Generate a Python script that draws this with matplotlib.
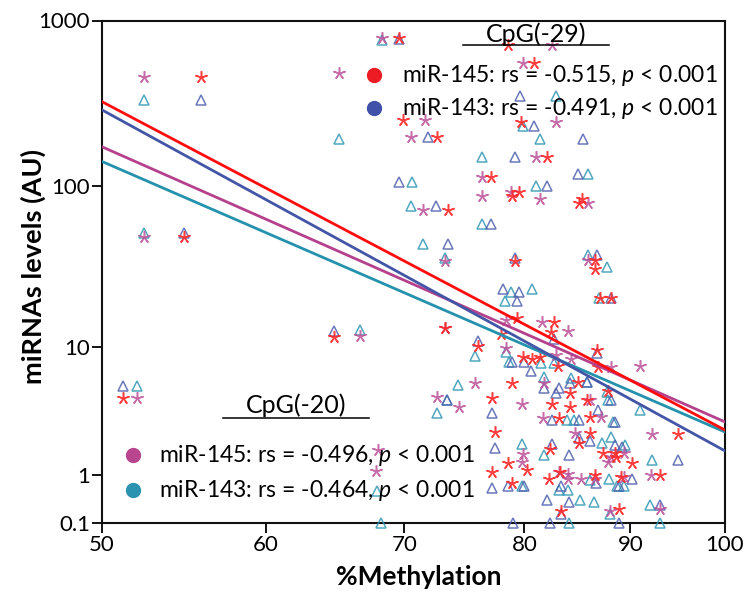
import numpy as np
import matplotlib
matplotlib.use('Agg')
import matplotlib.pyplot as plt
from matplotlib.lines import Line2D
from matplotlib.ticker import FixedLocator, FixedFormatter, NullLocator

plt.rcParams['font.family'] = ['Lato', 'DejaVu Sans']
plt.rcParams['mathtext.fontset'] = 'custom'
plt.rcParams['mathtext.rm'] = 'Lato'
plt.rcParams['mathtext.it'] = 'Lato:italic'

# ---------------- data ----------------
x_ticks = [50, 60, 70, 80, 90, 100]
y_ticks = [0.1, 1, 10, 100, 1000]
y_tick_labels = ['0.1', '1', '10', '100', '1000']

# miR-145, CpG(-29)  (red stars)
red_points = [(55.8, 455), (54.8, 49), (64.7, 11.6), (51.2, 4.5), (69.6, 781), (78.55, 713),
              (80.9, 558), (69.9, 251), (79.7, 246), (72.6, 199), (82.0, 151), (77.1, 114),
              (79.5, 92.6), (78.9, 86.5), (85.0, 79.3), (85.3, 83.4), (73.45, 71.6), (79.2, 34.9),
              (86.5, 35.6), (86.5, 31.0), (87.0, 20.4), (88.1, 20.4), (73.25, 13.2), (79.3, 15.3),
              (77.96, 12.2), (82.7, 14.4), (82.4, 12.5), (76.0, 10.1), (79.9, 8.6), (80.7, 8.3),
              (81.4, 8.6), (83.0, 7.5), (86.7, 9.55), (86.8, 7.4), (84.9, 5.85), (78.9, 5.7),
              (77.2, 4.5), (84.2, 4.9), (84.2, 3.9), (82.5, 4.07), (85.8, 4.35), (87.8, 5.07),
              (77.4, 2.5), (83.1, 3.2), (86.1, 3.28), (86.1, 2.43), (94.9, 2.4), (85.0, 2.03),
              (82.3, 1.77), (87.3, 1.63), (88.45, 1.63), (88.6, 1.51), (90.2, 1.31), (78.55, 1.31),
              (80.2, 1.11), (77.2, 1.08), (82.2, 0.9), (83.2, 1.06), (86.5, 0.99), (89.1, 0.95),
              (93.0, 0.99), (78.9, 0.79), (83.3, 0.27), (88.9, 0.3)]

# miR-143, CpG(-29)  (blue triangles)
blue_points = [(55.8, 332), (54.8, 52), (64.7, 12.6), (51.2, 5.45), (69.6, 770), (79.6, 350),
               (80.9, 231), (71.9, 199), (85.4, 192), (79.2, 151), (84.9, 119), (69.6, 106),
               (82.0, 99.8), (72.5, 75.2), (77.1, 58.7), (73.45, 44.3), (79.2, 36.5), (86.7, 38.0),
               (78.1, 23.3), (79.5, 22.3), (79.3, 19.75), (88.1, 20.4), (82.7, 11.3), (76.0, 10.9),
               (78.9, 8.0), (80.0, 8.0), (80.6, 6.9), (86.7, 9.1), (81.8, 5.3), (83.1, 5.3),
               (82.9, 4.85), (84.2, 5.7), (85.8, 5.85), (73.4, 4.35), (77.2, 3.47), (86.8, 3.7),
               (88.05, 4.35), (82.5, 3.1), (85.0, 3.1), (88.5, 2.97), (85.0, 2.24), (86.1, 2.09),
               (77.4, 1.82), (82.5, 1.97), (88.5, 1.92), (89.2, 1.87), (84.1, 1.58), (94.9, 1.43),
               (86.6, 0.8), (90.2, 0.9), (78.55, 0.72), (80.0, 0.72), (77.2, 0.68), (83.35, 0.72),
               (88.9, 0.72), (82.05, 0.45), (84.1, 0.41), (83.3, 0.22), (93.0, 0.37), (79.0, 0.1),
               (82.35, 0.1), (88.9, 0.1)]

# miR-145, CpG(-20)  (magenta stars)
magenta_points = [(52.4, 455), (65.05, 481), (52.4, 49), (52.0, 4.48), (68.25, 781), (82.5, 713),
                  (79.9, 558), (82.9, 246), (71.6, 251), (70.5, 199), (81.0, 151), (76.3, 114),
                  (78.8, 92.6), (76.3, 86.5), (81.4, 83.4), (85.85, 79.3), (71.5, 71.6), (73.25, 34.8),
                  (85.85, 35.6), (78.35, 14.9), (81.6, 14.4), (83.95, 12.7), (66.6, 11.8), (73.25, 13.2),
                  (78.35, 9.8), (82.9, 8.86), (84.3, 8.33), (88.1, 7.4), (91.0, 7.5), (75.7, 5.75),
                  (81.8, 5.7), (72.55, 4.6), (74.4, 3.85), (79.8, 4.07), (86.1, 4.35), (81.7, 3.2),
                  (87.1, 3.28), (84.6, 2.43), (92.15, 2.4), (68.0, 1.75), (67.85, 1.09), (79.9, 1.6),
                  (88.1, 1.51), (89.4, 1.66), (87.8, 1.36), (79.8, 1.34), (83.1, 1.06), (84.0, 1.01),
                  (84.0, 0.9), (85.2, 0.9), (86.5, 0.9), (89.4, 0.95), (92.05, 0.99), (88.0, 0.27),
                  (93.0, 0.3)]

# miR-143, CpG(-20)  (cyan triangles)
cyan_points = [(52.4, 332), (65.05, 193), (52.4, 52), (52.0, 5.45), (68.25, 766), (81.4, 192),
               (82.9, 350), (79.9, 231), (76.3, 151), (85.85, 119), (70.6, 106), (81.05, 99.8),
               (70.5, 75.2), (76.3, 58.7), (71.5, 44.3), (73.25, 36.5), (85.9, 38.0), (87.65, 32.1),
               (80.7, 23.3), (78.85, 22.3), (78.25, 19.75), (86.9, 20.4), (66.6, 12.8), (75.7, 8.76),
               (78.35, 9.2), (78.65, 8.0), (81.5, 7.88), (82.7, 7.88), (81.8, 6.27), (84.3, 6.19),
               (85.75, 5.85), (87.65, 4.98), (74.3, 5.55), (72.6, 3.48), (73.4, 4.35), (87.8, 4.35),
               (91.0, 3.7), (83.85, 3.1), (84.5, 3.1), (88.25, 2.97), (88.1, 2.27), (87.2, 2.03),
               (89.5, 1.95), (79.8, 1.98), (81.8, 1.58), (92.15, 1.43), (86.1, 0.86), (87.85, 0.9),
               (88.7, 0.73), (89.35, 0.72), (79.8, 0.73), (83.15, 0.65), (84.0, 0.65), (67.9, 0.62),
               (85.1, 0.45), (86.4, 0.41), (88.0, 0.22), (92.0, 0.37), (68.2, 0.1), (84.1, 0.1),
               (93.0, 0.1)]

# regression lines (value at x=50 and x=100)
fit_x = [50, 100]
fit_red = [324, 2.58]
fit_blue = [289, 1.72]
fit_magenta = [173, 2.99]
fit_cyan = [141, 2.49]

title_29 = 'CpG(-29)'
title_20 = 'CpG(-20)'
labels_29 = [r'miR-145: rs = -0.515, $\it{p}$ < 0.001', r'miR-143: rs = -0.491, $\it{p}$ < 0.001']
labels_20 = [r'miR-145: rs = -0.496, $\it{p}$ < 0.001', r'miR-143: rs = -0.464, $\it{p}$ < 0.001']

# ---------------- styles ----------------
C_RED_M, C_RED_L, C_RED_D = '#ff2a2a', '#ff0d0d', '#ed1c24'
C_BLUE_M, C_BLUE_L, C_BLUE_D = '#5161ae', '#4355a6', '#3f51a8'
C_MAG_M, C_MAG_L, C_MAG_D = '#bb529a', '#b5418c', '#b8458e'
C_CYA_M, C_CYA_L, C_CYA_D = '#3399b5', '#2592ad', '#2a93b0'

W, H = 747, 600
fig = plt.figure(figsize=(W / 100, H / 100), dpi=100)
L, R, T, B = 102, 725, 20.5, 522.7
ax = fig.add_axes([L / W, 1 - B / H, (R - L) / W, (B - T) / H])

OFF = 0.85
def fwd(y):
    return np.log10(np.clip(np.asarray(y, dtype=float) + OFF, 1e-9, None))
def inv(t):
    return 10 ** np.asarray(t, dtype=float) - OFF

ax.set_xscale('log')
ax.set_yscale('function', functions=(fwd, inv))
ax.set_xlim(50, 100)
ax.set_ylim(0.1, 1000)

star = (5, 2, 0)
def scatter(points, marker, color, ms, mew, alpha):
    xs, ys = zip(*points)
    if marker == '^':
        ax.plot(xs, ys, ls='none', marker='^', ms=ms, mfc='none', mec=color, mew=mew,
                alpha=alpha, clip_on=False, zorder=3)
    else:
        ax.plot(xs, ys, ls='none', marker=marker, ms=ms, mec=color, mew=mew,
                alpha=alpha, clip_on=False, zorder=3)

scatter(cyan_points, '^', C_CYA_M, 7.5, 1.1, 0.85)
scatter(blue_points, '^', C_BLUE_M, 7.5, 1.1, 0.85)
scatter(magenta_points, star, C_MAG_M, 9, 1.1, 0.85)
scatter(red_points, star, C_RED_M, 9, 1.1, 0.9)

ax.plot(fit_x, fit_cyan, color=C_CYA_L, lw=2.0, zorder=4)
ax.plot(fit_x, fit_magenta, color=C_MAG_L, lw=2.0, zorder=4)
ax.plot(fit_x, fit_blue, color=C_BLUE_L, lw=2.0, zorder=4)
ax.plot(fit_x, fit_red, color=C_RED_L, lw=2.0, zorder=4)

ax.xaxis.set_major_locator(FixedLocator(x_ticks))
ax.xaxis.set_major_formatter(FixedFormatter([str(v) for v in x_ticks]))
ax.xaxis.set_minor_locator(NullLocator())
ax.yaxis.set_major_locator(FixedLocator(y_ticks))
ax.yaxis.set_major_formatter(FixedFormatter(y_tick_labels))
ax.yaxis.set_minor_locator(NullLocator())
ax.tick_params(axis='both', direction='out', length=7, width=1.3, labelsize=16, color='black')
ax.tick_params(axis='x', pad=2)
ax.tick_params(axis='y', pad=1.5)
for s in ax.spines.values():
    s.set_linewidth(1.5)
    s.set_color('#111111')

def fx(px):
    return px / W
def fy(py):
    return 1 - py / H

# axis labels
fig.text(fx(419), fy(577), '%Methylation', ha='center', va='center', fontsize=19, fontweight='bold')
fig.text(fx(33), fy(266), 'miRNAs levels (AU)', ha='center', va='center', rotation=90,
         fontsize=19.5, fontweight='bold')

# legend CpG(-29)
fig.text(fx(536), fy(41.7), title_29, ha='center', va='baseline', fontsize=18)
fig.add_artist(Line2D([fx(463), fx(609)], [fy(45), fy(45)], color='black', lw=1.1))
for i, (lab, col) in enumerate(zip(labels_29, [C_RED_D, C_BLUE_D])):
    yc = 75 + i * 33.3
    fig.add_artist(Line2D([fx(374.3)], [fy(yc)], marker='o', ms=10, color=col, mec=col))
    fig.text(fx(401.7), fy(yc + 7), lab, ha='left', va='baseline', fontsize=16.5)

# legend CpG(-20)
fig.text(fx(296), fy(413.3), title_20, ha='center', va='baseline', fontsize=18)
fig.add_artist(Line2D([fx(222.7), fx(369.3)], [fy(418.3), fy(418.3)], color='black', lw=1.1))
for i, (lab, col) in enumerate(zip(labels_20, [C_MAG_D, C_CYA_D])):
    yc = 455 + i * 35
    fig.add_artist(Line2D([fx(133.3)], [fy(yc)], marker='o', ms=10, color=col, mec=col))
    fig.text(fx(159.3), fy(yc + 7), lab, ha='left', va='baseline', fontsize=16.5)

fig.savefig('out.png', dpi=100)
